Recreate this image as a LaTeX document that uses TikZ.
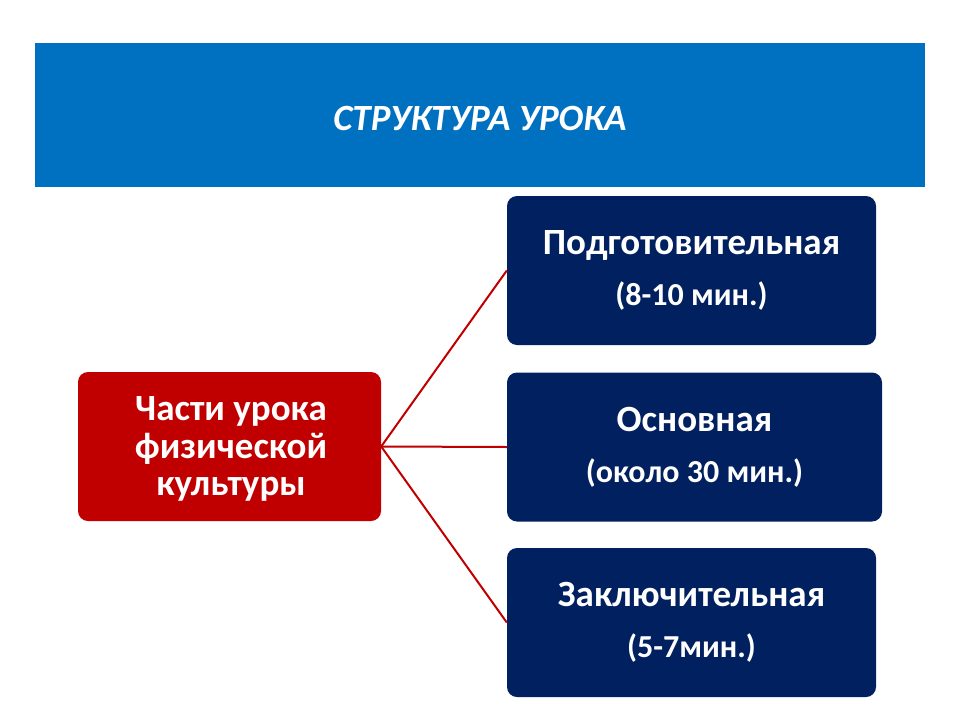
\documentclass[tikz,border=0pt]{standalone}
\usepackage{fontspec}
\setmainfont{Carlito}
\usetikzlibrary{shapes,arrows,fit,positioning}
\definecolor{banner}{RGB}{0,112,192}
\definecolor{navy}{RGB}{0,32,96}
\definecolor{darkred}{RGB}{192,0,0}
\def\Title{СТРУКТУРА УРОКА}
\def\Mins#1{{\fontsize{32}{36}\selectfont#1}}

\begin{document}
\begin{tikzpicture}[x=1pt,y=-1pt,% styles for the whole picture
				every node/.style={
					align=center,		% so that "\\" breaks lines
					text=white,
					inner sep=0pt
				},
				part/.style={rectangle,rounded corners=10pt,fill=navy,
					minimum width=369pt,minimum height=149pt,font=\bfseries\fontsize{37}{44}\selectfont},
				every edge/.style={draw=darkred,line width=2pt}
			]
			\useasboundingbox[fill=white] (0,0) rectangle (960,720);
			\node[rectangle,fill=banner,minimum width=890pt,minimum height=144pt](B) at (480,115){};
			\node[font=\bfseries\itshape\fontsize{37}{44}\selectfont](T) at (480,118){\Title};
			\node[rectangle,rounded corners=10pt,fill=darkred,minimum width=303pt,minimum height=149pt,
				font=\bfseries\fontsize{37}{37.5}\selectfont](R1) at (229.5,446.5){};
			\node[font=\bfseries\fontsize{37}{37.5}\selectfont] at (231,449){Части урока\\физической\\культуры};
			\node[part](R2) at (691.5,270.5){Подготовительная\\[7pt]\Mins{(8-10 мин.)}};
			\node[part,minimum width=375pt](R3) at (694.5,447){Основная\\[7pt]\Mins{(около 30 мин.)}};
			\node[part](R4) at (691.5,622.5){Заключительная\\[7pt]\Mins{(5-7мин.)}};
			\path
			(R1.east)edge []	node [] {} (R2.west)
			(R1.east)edge []	node [] {} (R3.west)
			(R1.east)edge []	node [] {} (R4.west)
			;
		\end{tikzpicture}
\end{document}
